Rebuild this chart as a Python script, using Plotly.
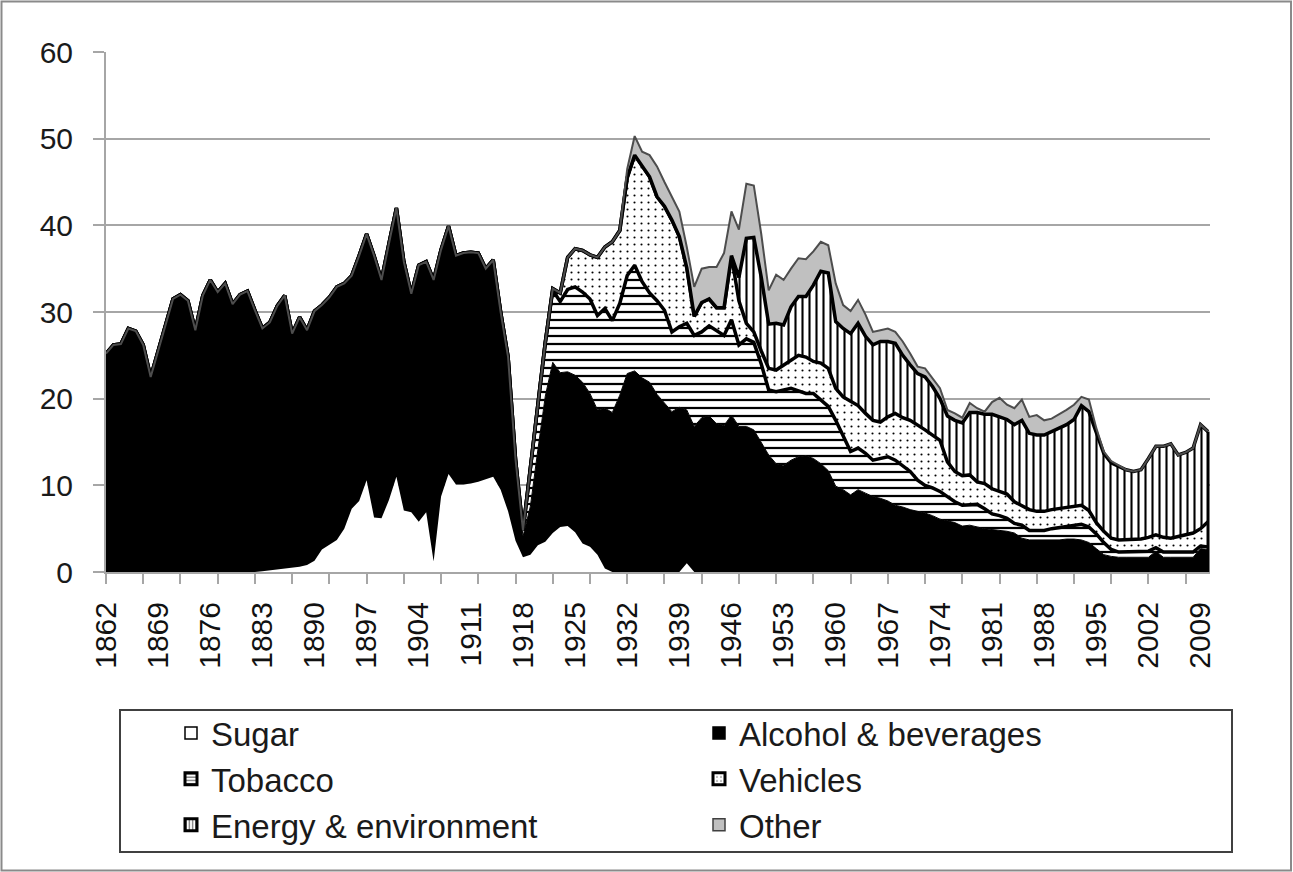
import plotly.graph_objects as go

# ---------------- data (share, %) ----------------
years = list(range(1862, 2011))

# rows of ten years: 1862-71, 1872-81, ..., 1992-2001, 2002-10
sugar = [
    0, 0, 0, 0, 0, 0, 0, 0, 0, 0,
    0, 0, 0, 0, 0, 0, 0, 0, 0, 0,
    0, 0.1, 0.2, 0.3, 0.4, 0.5, 0.6, 0.8, 1.3, 2.6,
    3.1, 3.7, 5.0, 7.3, 8.2, 10.6, 6.3, 6.2, 8.3, 11.0,
    7.1, 6.9, 5.8, 6.9, 1.2, 8.7, 11.3, 10.1, 10.1, 10.2,
    10.4, 10.7, 11.0, 9.5, 7.0, 3.6, 1.7, 2.0, 3.1, 3.5,
    4.5, 5.2, 5.3, 4.6, 3.3, 2.9, 2.0, 0.4, 0, 0,
    0, 0, 0, 0, 0, 0, 0, 0, 1.0, 0,
    0, 0, 0, 0, 0, 0, 0, 0, 0, 0,
    0, 0, 0, 0, 0, 0, 0, 0, 0, 0,
    0, 0, 0, 0, 0, 0, 0, 0, 0, 0,
    0, 0, 0, 0, 0, 0, 0, 0, 0, 0,
    0, 0, 0, 0, 0, 0, 0, 0, 0, 0,
    0, 0, 0, 0, 0, 0, 0, 0, 0, 0,
    0, 0, 0, 0, 0, 0, 0, 0, 0,
]

alcohol = [
    25.2, 26.2, 26.3, 28.1, 27.8, 26.2, 22.5, 25.4, 28.5, 31.5,
    32.0, 31.3, 27.9, 31.9, 33.7, 32.3, 33.3, 30.9, 32.0, 32.4,
    30.2, 28.0, 28.6, 30.4, 31.5, 27.0, 28.8, 27.1, 28.8, 28.2,
    28.6, 29.2, 28.3, 26.9, 28.3, 28.4, 30.2, 27.5, 29.6, 31.0,
    28.7, 25.2, 29.6, 28.9, 32.5, 28.5, 28.6, 26.4, 26.7, 26.7,
    26.4, 24.3, 25.0, 20.0, 17.2, 8.2, 2.4, 5.6, 11.0, 16.8,
    19.7, 17.8, 17.8, 18.1, 18.6, 17.7, 16.7, 18.5, 18.4, 20.4,
    22.9, 23.2, 22.4, 21.9, 20.5, 19.5, 18.5, 19.0, 17.7, 16.8,
    17.8, 18.0, 17.1, 16.9, 18.1, 16.8, 16.8, 16.4, 15.0, 13.5,
    12.5, 12.3, 12.9, 13.3, 13.4, 13.1, 12.5, 11.7, 9.9, 9.5,
    8.9, 9.5, 9.1, 8.7, 8.5, 8.2, 7.7, 7.5, 7.2, 7.0,
    6.8, 6.5, 6.1, 5.9, 5.7, 5.3, 5.4, 5.2, 5.0, 4.9,
    4.8, 4.7, 4.5, 3.9, 3.7, 3.7, 3.7, 3.7, 3.7, 3.8,
    3.8, 3.7, 3.4, 2.7, 2.0, 1.8, 1.7, 1.7, 1.7, 1.7,
    1.7, 2.4, 1.7, 1.7, 1.7, 1.7, 1.7, 2.7, 2.6,
]

tobacco = [
    0, 0, 0, 0, 0, 0, 0, 0, 0, 0,
    0, 0, 0, 0, 0, 0, 0, 0, 0, 0,
    0, 0, 0, 0, 0, 0, 0, 0, 0, 0,
    0, 0, 0, 0, 0, 0, 0, 0, 0, 0,
    0, 0, 0, 0, 0, 0, 0, 0, 0, 0,
    0, 0, 0, 0.5, 0.6, 1.2, 0.7, 4.1, 5.2, 6.2,
    8.3, 8.2, 9.5, 10.2, 10.4, 10.9, 10.9, 11.5, 10.6, 10.6,
    11.3, 12.2, 11.1, 10.3, 10.8, 10.7, 9.2, 9.3, 10.0, 10.5,
    9.9, 10.4, 10.8, 10.4, 11.0, 9.4, 10.1, 10.1, 9.0, 7.5,
    8.3, 8.7, 8.3, 7.6, 7.2, 7.5, 7.3, 7.4, 7.6, 6.3,
    5.0, 4.8, 4.6, 4.2, 4.6, 5.1, 5.2, 4.8, 4.4, 3.6,
    3.2, 3.2, 3.2, 2.8, 2.4, 2.4, 2.3, 2.6, 2.3, 1.8,
    1.7, 1.5, 1.1, 1.5, 1.1, 1.1, 1.1, 1.3, 1.4, 1.4,
    1.6, 1.8, 1.8, 1.7, 1.4, 0.8, 0.6, 0.6, 0.6, 0.6,
    0.7, 0.4, 0.6, 0.6, 0.6, 0.6, 0.6, 0.3, 0.3,
]

vehicles = [
    0, 0, 0, 0, 0, 0, 0, 0, 0, 0,
    0, 0, 0, 0, 0, 0, 0, 0, 0, 0,
    0, 0, 0, 0, 0, 0, 0, 0, 0, 0,
    0, 0, 0, 0, 0, 0, 0, 0, 0, 0,
    0, 0, 0, 0, 0, 0, 0, 0, 0, 0,
    0, 0, 0, 0, 0, 0, 0, 0, 0, 0,
    0.2, 1.0, 3.7, 4.4, 4.8, 5.1, 6.7, 7.1, 9.1, 8.4,
    11.3, 12.7, 13.3, 13.4, 12.0, 12.0, 12.9, 10.4, 6.4, 2.2,
    3.4, 3.1, 2.6, 3.2, 7.4, 5.1, 1.8, 1.2, 1.5, 2.5,
    2.5, 2.9, 3.3, 4.1, 4.2, 3.7, 4.3, 4.4, 3.7, 4.4,
    5.8, 4.9, 4.6, 4.6, 4.2, 4.6, 5.4, 5.5, 5.9, 6.4,
    6.4, 6.1, 5.9, 4.0, 3.5, 3.4, 3.5, 2.6, 2.9, 2.9,
    2.8, 2.8, 2.5, 2.2, 2.4, 2.2, 2.2, 2.2, 2.2, 2.3,
    2.1, 2.2, 1.9, 1.3, 1.3, 1.3, 1.4, 1.4, 1.5, 1.5,
    1.6, 1.5, 1.7, 1.6, 1.8, 2.0, 2.2, 2.0, 2.9,
]

energy = [
    0, 0, 0, 0, 0, 0, 0, 0, 0, 0,
    0, 0, 0, 0, 0, 0, 0, 0, 0, 0,
    0, 0, 0, 0, 0, 0, 0, 0, 0, 0,
    0, 0, 0, 0, 0, 0, 0, 0, 0, 0,
    0, 0, 0, 0, 0, 0, 0, 0, 0, 0,
    0, 0, 0, 0, 0, 0, 0, 0, 0, 0,
    0, 0, 0, 0, 0, 0, 0, 0, 0, 0,
    0, 0, 0, 0, 0, 0, 0, 0, 0, 0,
    0, 0, 0, 0, 0, 2.7, 9.8, 10.9, 8.5, 5.1,
    5.4, 4.6, 6.1, 6.8, 7.0, 8.8, 10.6, 11.0, 7.7, 7.9,
    7.8, 9.5, 8.9, 8.7, 9.3, 8.7, 8.1, 7.2, 6.4, 5.9,
    6.1, 5.6, 4.8, 5.3, 5.9, 6.1, 7.2, 8.0, 8.0, 8.6,
    8.6, 8.6, 8.9, 9.9, 8.8, 8.8, 8.8, 9.0, 9.2, 9.5,
    10.1, 11.5, 11.4, 10.3, 9.0, 8.7, 8.5, 8.1, 7.8, 8.0,
    9.1, 10.2, 10.5, 10.9, 9.4, 9.5, 9.8, 12.0, 10.4,
]

other = [
    0, 0, 0, 0, 0, 0, 0, 0, 0, 0,
    0, 0, 0, 0, 0, 0, 0, 0, 0, 0,
    0, 0, 0, 0, 0, 0, 0, 0, 0, 0,
    0, 0, 0, 0, 0, 0, 0, 0, 0, 0,
    0, 0, 0, 0, 0, 0, 0, 0, 0, 0,
    0, 0, 0, 0, 0, 0, 0, 0, 0, 0,
    0, 0, 0, 0, 0, 0, 0, 0, 0, 0,
    1.0, 2.2, 1.7, 2.5, 3.5, 2.8, 2.7, 2.9, 2.4, 3.4,
    3.9, 3.7, 4.7, 6.3, 5.1, 5.5, 6.3, 6.0, 5.0, 3.9,
    5.6, 5.2, 4.4, 4.4, 4.3, 3.9, 3.4, 3.2, 4.4, 2.7,
    2.6, 2.7, 2.5, 1.5, 1.3, 1.5, 1.3, 1.6, 1.3, 0.8,
    1.0, 0.9, 1.2, 0.7, 0.8, 0.6, 1.1, 0.5, 0.3, 1.4,
    2.2, 1.7, 1.9, 2.4, 1.9, 2.3, 1.7, 1.5, 1.7, 1.7,
    1.7, 1.0, 1.4, 0.6, 0.2, 0.2, 0.1, 0, 0, 0,
    0, 0, 0, 0, 0, 0, 0, 0, 0,
]

series_names = ["Sugar", "Alcohol & beverages", "Tobacco", "Vehicles",
                "Energy & environment", "Other"]
series_values = [sugar, alcohol, tobacco, vehicles, energy, other]

label_years = [1862, 1869, 1876, 1883, 1890, 1897, 1904, 1911, 1918, 1925, 1932,
               1939, 1946, 1953, 1960, 1967, 1974, 1981, 1988, 1995, 2002, 2009]
tick_years = list(range(1862, 2011, 5))
y_ticks = [0, 10, 20, 30, 40, 50, 60]

for s in series_values:
    assert len(s) == len(years), len(s)

# ---------------- layout geometry ----------------
W, H = 1293, 872
ML, MR, MT, MB = 106, 83, 52, 300
PW, PH = W - ML - MR, H - MT - MB
PX_PER_YEAR = 7.446
x_range = [years[0], years[0] + PW / PX_PER_YEAR]


def px_x(px):
    return (px - ML) / PW


def px_y(py):
    return (H - MB - py) / PH


FONT = "Liberation Sans, Arial, sans-serif"
GRID = "#a6a6a6"

area_styles = [
    dict(fillcolor="white", line=dict(width=0, color="white")),
    dict(fillcolor="black", line=dict(width=1, color="black")),
    dict(fillcolor="white",
         fillpattern=dict(shape="-", fgcolor="black", bgcolor="white", size=8,
                          solidity=0.28, fillmode="replace"),
         line=dict(width=3.5, color="black")),
    dict(fillcolor="white",
         fillpattern=dict(shape=".", fgcolor="black", bgcolor="white", size=7,
                          solidity=0.07, fillmode="replace"),
         line=dict(width=3.5, color="black")),
    dict(fillcolor="white",
         fillpattern=dict(shape="|", fgcolor="black", bgcolor="white", size=7,
                          solidity=0.3, fillmode="replace"),
         line=dict(width=3.5, color="black")),
    dict(fillcolor="#c0c0c0", line=dict(width=2, color="#4d4d4d")),
]

legend_markers = [
    dict(color="white", line=dict(color="black", width=1.5)),
    dict(color="black", line=dict(color="black", width=1.5)),
    dict(color="white", pattern=dict(shape="-", fgcolor="black", bgcolor="white",
                                     size=4, solidity=0.45),
         line=dict(color="black", width=3)),
    dict(color="white", pattern=dict(shape=".", fgcolor="black", bgcolor="white",
                                     size=5, solidity=0.15),
         line=dict(color="black", width=3)),
    dict(color="white", pattern=dict(shape="|", fgcolor="black", bgcolor="white",
                                     size=4, solidity=0.45),
         line=dict(color="black", width=3)),
    dict(color="#c0c0c0", line=dict(color="#404040", width=1.5)),
]

fig = go.Figure()

for name, vals, st in zip(series_names, series_values, area_styles):
    fig.add_trace(go.Scatter(
        x=years, y=vals, name=name, mode="lines", stackgroup="one",
        showlegend=False, hoverinfo="x+y+name", **st))

# closing edge of the stack at the last year (from the data)
last_total = sum(s[-1] for s in series_values)
fig.add_trace(go.Scatter(x=[years[-1], years[-1]], y=[0, last_total], mode="lines",
                         line=dict(color="black", width=3), showlegend=False,
                         hoverinfo="skip"))

# legend entries (square swatches)
for name, mk in zip(series_names, legend_markers):
    fig.add_trace(go.Bar(x=[None], y=[None], name=name, marker=mk, showlegend=True))

# carrier for the secondary axis that draws the 5-year tick marks
fig.add_trace(go.Scatter(x=[None], y=[None], xaxis="x2", yaxis="y", mode="lines",
                         showlegend=False, hoverinfo="skip"))

fig.update_layout(
    width=W, height=H,
    margin=dict(l=ML, r=MR, t=MT, b=MB, autoexpand=False),
    paper_bgcolor="white", plot_bgcolor="white",
    xaxis=dict(range=x_range, tickmode="array", tickvals=label_years,
               ticktext=[str(y) for y in label_years], tickangle=-90, ticks="",
               tickfont=dict(family=FONT, size=30, color="#111111"),
               ticklabelstandoff=16,
               showline=True, linecolor=GRID, linewidth=2, showgrid=False,
               zeroline=False),
    xaxis2=dict(range=x_range, overlaying="x", anchor="y", side="bottom",
                tickmode="array", tickvals=tick_years, ticks="outside",
                ticklen=11, tickwidth=1.5, tickcolor=GRID, showticklabels=False,
                showgrid=False, showline=False, zeroline=False),
    yaxis=dict(range=[0, 60], tickmode="array", tickvals=y_ticks,
               ticks="outside", ticklen=11, tickwidth=1.5, tickcolor=GRID,
               tickfont=dict(family=FONT, size=30, color="#1a1a1a"),
               ticklabelstandoff=14,
               showline=True, linecolor=GRID, linewidth=2,
               showgrid=True, gridcolor=GRID, gridwidth=2, zeroline=False),
    legend=dict(orientation="h", x=px_x(171), xanchor="left",
                y=px_y(705), yanchor="top", entrywidth=483, entrywidthmode="pixels",
                itemwidth=30, traceorder="normal",
                font=dict(family=FONT, size=33, color="#1a1a1a"),
                bgcolor="rgba(0,0,0,0)", borderwidth=0),
    shapes=[
        dict(type="rect", xref="paper", yref="paper",
             x0=px_x(1.5), x1=px_x(1291), y0=px_y(870.5), y1=px_y(1.5),
             line=dict(color="#8a8a8a", width=2), fillcolor="rgba(0,0,0,0)",
             layer="above"),
        dict(type="rect", xref="paper", yref="paper",
             x0=px_x(120), x1=px_x(1232), y0=px_y(852), y1=px_y(710),
             line=dict(color="#404040", width=2), fillcolor="rgba(0,0,0,0)",
             layer="above"),
    ],
    showlegend=True,
)

fig.write_html(
    "out.html",
    config={"displayModeBar": False},
    post_script="document.body.style.margin='0';document.body.style.overflow='hidden';",
)
